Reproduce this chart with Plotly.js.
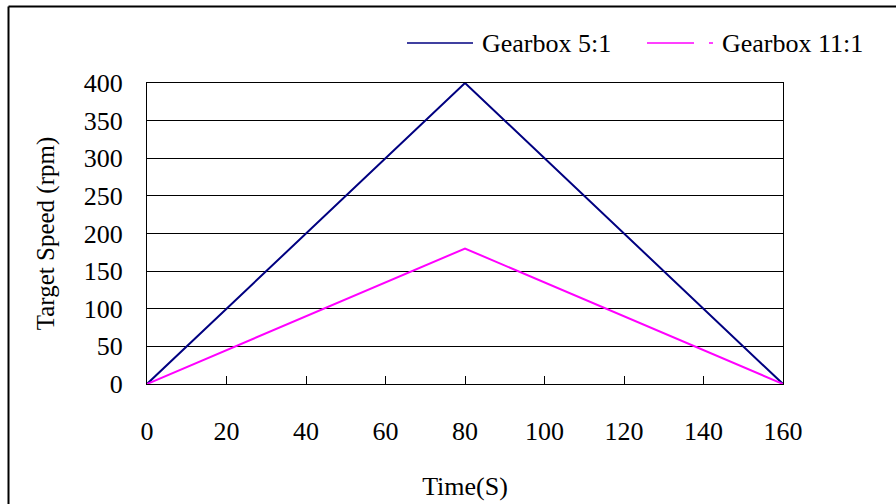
<!DOCTYPE html>
<html>
<head>
<meta charset="utf-8">
<script src="https://cdn.plot.ly/plotly-3.0.1.min.js"></script>
<style>html,body{margin:0;padding:0;background:#fff;}#chart{width:896px;height:504px;}
#chart svg text{font-family:'Liberation Serif' !important;}
#kick{position:absolute;left:870px;top:488px;font:11px monospace;color:#fff;white-space:pre;}</style>
</head>
<body>
<div id="chart"></div>
<div id="kick"></div>
<script>
const timeS = [0, 80, 160];
const gearbox5 = [0, 400, 0];
const gearbox11 = [0, 180, 0];
const seriesNames = ['Gearbox 5:1', 'Gearbox 11:1'];
const xTicks = [0, 20, 40, 60, 80, 100, 120, 140, 160];
const yTicks = [0, 50, 100, 150, 200, 250, 300, 350, 400];

const FONT = 'Liberation Serif';
const traces = [
  {x: timeS, y: gearbox5, name: seriesNames[0], mode: 'lines', line: {color: '#000080', width: 2}},
  {x: timeS, y: gearbox11, name: seriesNames[1], mode: 'lines', line: {color: '#FF00FF', width: 2}}
];

const L = 147, R = 113, T = 83, B = 120, W = 896, H = 504;
const pw = W - L - R, ph = H - T - B;
const px = v => (v - L) / pw;
const py = v => 1 - (v - T) / ph;

const layout = {
  width: W, height: H,
  margin: {l: L, r: R, t: T, b: B, pad: 0},
  paper_bgcolor: '#fff', plot_bgcolor: '#fff',
  showlegend: false,
  font: {family: FONT, size: 26, color: '#000'},
  xaxis: {
    range: [0, 160], tickvals: xTicks, ticktext: xTicks.map(String),
    ticks: 'inside', ticklen: 8, tickwidth: 1, tickcolor: '#000',
    showline: true, linecolor: '#000', linewidth: 1, mirror: true,
    showgrid: false, zeroline: false,
    ticklabelstandoff: 24,
    tickfont: {family: FONT, size: 26, color: '#000'},
    title: {text: 'Time(S)', font: {family: FONT, size: 26, color: '#000'}, standoff: 31}
  },
  yaxis: {
    range: [0, 400], tickvals: yTicks, ticktext: yTicks.map(String),
    ticks: '', showline: true, linecolor: '#000', linewidth: 1, mirror: true,
    showgrid: true, gridcolor: '#000', gridwidth: 1, zeroline: false,
    ticklabelstandoff: 18,
    tickfont: {family: FONT, size: 26, color: '#000'},
    title: {text: 'Target Speed (rpm)', font: {family: FONT, size: 25, color: '#000'}, standoff: 22}
  },
  shapes: [
    {type: 'line', xref: 'paper', yref: 'paper', x0: px(8.5), x1: px(8.5), y0: py(6.5), y1: py(520), line: {color: '#000', width: 2}},
    {type: 'line', xref: 'paper', yref: 'paper', x0: px(8.5), x1: px(900), y0: py(6.5), y1: py(6.5), line: {color: '#000', width: 2}},
    {type: 'line', xref: 'paper', yref: 'paper', x0: px(407), x1: px(473), y0: py(43), y1: py(43), line: {color: '#000080', width: 1.5}},
    {type: 'line', xref: 'paper', yref: 'paper', x0: px(647), x1: px(694), y0: py(43), y1: py(43), line: {color: '#FF00FF', width: 1.5}},
    {type: 'line', xref: 'paper', yref: 'paper', x0: px(709), x1: px(713), y0: py(43), y1: py(43), line: {color: '#FF00FF', width: 1.5}}
  ],
  annotations: [
    {xref: 'paper', yref: 'paper', x: px(480), y: py(44), xanchor: 'left', yanchor: 'middle', showarrow: false, text: seriesNames[0], font: {family: FONT, size: 26, color: '#000'}},
    {xref: 'paper', yref: 'paper', x: px(720), y: py(44), xanchor: 'left', yanchor: 'middle', showarrow: false, text: seriesNames[1], font: {family: FONT, size: 26, color: '#000'}}
  ]
};

Plotly.newPlot('chart', traces, layout, {displayModeBar: false})
  .then(() => {
    document.getElementById('kick').textContent = '\u00a0\u00a0';
    document.querySelectorAll('#chart svg text').forEach(el => { void getComputedStyle(el).fontFamily; });
    return document.fonts ? document.fonts.ready : null;
  })
  .then(() => new Promise(r => setTimeout(r, 60)))
  .then(() => Plotly.newPlot('chart', traces, layout, {displayModeBar: false}))
  .then(() => { document.getElementById('kick').textContent = '\u00a0'; });
</script>
</body>
</html>
